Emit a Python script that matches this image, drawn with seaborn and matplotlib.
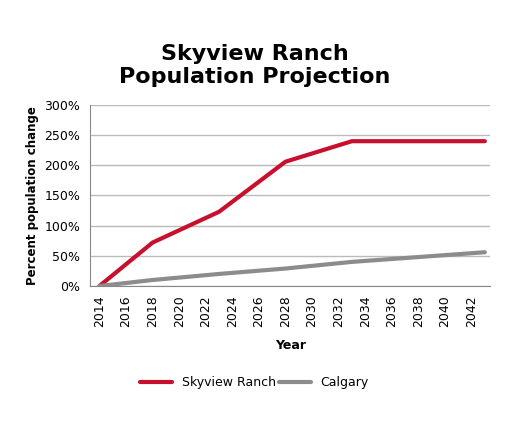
import numpy as np
import pandas as pd
import matplotlib
matplotlib.use("Agg")
import matplotlib.pyplot as plt
import seaborn as sns
from matplotlib.ticker import FuncFormatter

years = [2014, 2018, 2023, 2028, 2033, 2038, 2043]
skyview = [0, 72, 123, 206, 240, 240, 240]
calgary = [0, 10, 20, 29, 40, 48, 56]

df = pd.DataFrame({"Year": years * 2,
                   "value": skyview + calgary,
                   "series": ["Skyview Ranch"] * 7 + ["Calgary"] * 7})

sns.set_style("white")
plt.rcParams['font.family'] = ['DejaVu Sans']
plt.rcParams['text.color'] = 'black'
plt.rcParams['axes.labelcolor'] = 'black'
plt.rcParams['xtick.color'] = 'black'
plt.rcParams['ytick.color'] = 'black'

fig = plt.figure(figsize=(5.09, 4.25), dpi=100)
ax = fig.add_axes([0.177, 0.327, 0.786, 0.426])
sns.lineplot(data=df, x="Year", y="value", hue="series",
             palette={"Skyview Ranch": "#c8102e", "Calgary": "#8c8c8c"},
             linewidth=3, ax=ax, legend=False)

ax.set_xlim(2013.3, 2043.4)
ax.set_ylim(0, 300)
ax.set_xticks(range(2014, 2043, 2))
ax.set_yticks(range(0, 301, 50))
ax.yaxis.set_major_formatter(FuncFormatter(lambda v, p: f"{int(v)}%"))
ax.tick_params(axis='x', rotation=90, labelsize=9)
ax.tick_params(axis='y', labelsize=9)
ax.grid(axis='y', color='#bbbbbb', linewidth=1)
for s in ['top', 'right']:
    ax.spines[s].set_visible(False)
ax.spines['left'].set_color('#888888')
ax.spines['bottom'].set_color('#888888')
ax.set_xlabel("Year", fontweight='bold', fontsize=9, labelpad=8)
ax.set_ylabel("Percent population change", fontweight='bold', fontsize=8.5)

fig.text(0.5, 0.805, "Skyview Ranch\nPopulation Projection", ha='center',
         fontsize=16, fontweight='bold', linespacing=1.2)

h1, = ax.plot([], [], color="#c8102e", lw=3, label="Skyview Ranch")
h2, = ax.plot([], [], color="#8c8c8c", lw=3, label="Calgary")
fig.legend(handles=[h1, h2], loc='center', bbox_to_anchor=(0.5, 0.1),
           ncol=2, frameon=False, fontsize=9, columnspacing=0.3, handlelength=2.5)

fig.savefig("out.png", dpi=100)
